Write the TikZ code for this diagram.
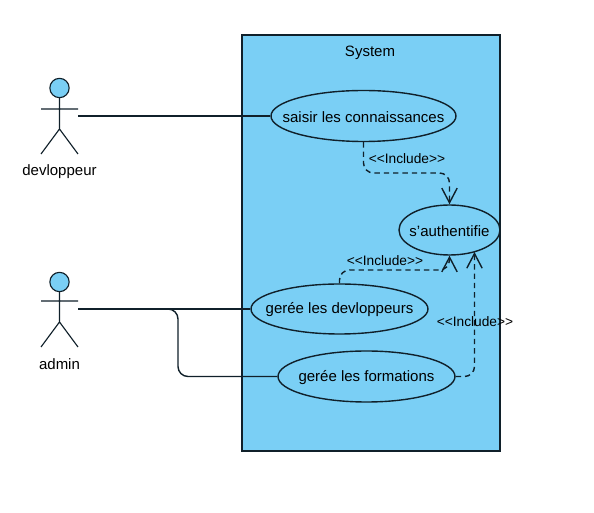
\documentclass[tikz,border=0pt]{standalone}
\usepackage{fontspec}
\setmainfont{Liberation Sans}
\usetikzlibrary{arrows.meta,shapes.geometric,calc}
\definecolor{sysblue}{HTML}{7ACFF5}
\definecolor{linec}{HTML}{10202A}
\tikzset{
  x=0.75pt,y=-0.75pt,
  ln/.style={draw=linec,line width=1.05pt},
  sysbox/.style={draw=linec,line width=0.8pt,fill=sysblue,minimum width=193.5pt,minimum height=312pt,inner sep=0pt},
  usecase/.style={ellipse,ln,inner sep=0pt},
  uctext/.style={font=\fontsize{11.25}{13}\selectfont,inner sep=0pt,text=black},
  lbl/.style={font=\fontsize{11.25}{13}\selectfont,inner sep=0pt,text=black},
  inc/.style={font=\fontsize{10.3}{12}\selectfont,inner sep=0pt,text=black},
  assoc/.style={draw=linec,line width=1.05pt,rounded corners=7.5pt},
  incl/.style={draw=linec,line width=1.05pt,rounded corners=7.5pt,dash pattern=on 4pt off 3pt,-{Straight Barb[length=11pt,width=11.5pt,line width=1.05pt]}},
  stick/.style={draw=linec,line width=0.85pt},
  head/.style={circle,draw=linec,line width=0.85pt,fill=sysblue,minimum size=14.5pt,inner sep=0pt}
}
\begin{document}
\begin{tikzpicture}
\useasboundingbox[fill=white] (0,0) rectangle (594,513);
\node[sysbox] (sys) at (371,243) {};
\node[lbl] (systitle) at (370,53) {System};
% actors
\node[head] (h1) at (59.5,88) {};
\draw[stick] (h1.south) -- (59.5,129) -- (41,154) (59.5,129) -- (78,154) (41,109) -- (78,109);
\node[lbl] (dev) at (59.5,172) {devloppeur};
\coordinate (devh) at (78,116);
\node[head] (h2) at (59.5,282) {};
\draw[stick] (h2.south) -- (59.5,322) -- (41,347) (59.5,322) -- (78,347) (41,301) -- (78,301);
\node[lbl] (adm) at (59.5,364) {admin};
\coordinate (admh) at (78,309);
% use cases
\node[usecase,minimum width=138.75pt,minimum height=38.25pt,label={[uctext,yshift=-0.5pt]center:saisir les connaissances}] (sai) at (363.5,116) {};
\node[usecase,minimum width=75.75pt,minimum height=37.5pt,label={[uctext,yshift=-0.5pt]center:s'authentifie}] (auth) at (449.5,230) {};
\node[usecase,minimum width=132.75pt,minimum height=37.5pt,label={[uctext,yshift=-0.5pt]center:gerée les devloppeurs}] (dvl) at (339.5,309) {};
\node[usecase,minimum width=132.75pt,minimum height=38.25pt,label={[uctext,yshift=-0.5pt]center:gerée les formations}] (frm) at (366.5,376.5) {};
% associations
\draw[assoc] (devh) -- (sai.west);
\draw[assoc] (admh) -- (dvl.west);
\coordinate (b0) at (178,0);
\draw[assoc] (admh) -- (b0 |- admh) -- (b0 |- frm.west) -- (frm.west);
% includes
\coordinate (b1) at (0,173);
\coordinate (b2) at (0,270);
\coordinate (b3) at (474.5,0);
\draw[incl] (sai.south) -- (sai.south |- b1) -- (auth.north |- b1) -- (auth.north);
\draw[incl] (dvl.north) -- (dvl.north |- b2) -- (auth.south |- b2) -- (auth.south);
\draw[incl,shorten >=-2pt] (frm.east) -- (b3 |- frm.east) -- (b3 |- auth.-60);
\node[inc] (i1) at (407,159) {<{}<Include>{}>};
\node[inc] (i2) at (385,261) {<{}<Include>{}>};
\node[inc] (i3) at (475,322) {<{}<Include>{}>};
\end{tikzpicture}
\end{document}
